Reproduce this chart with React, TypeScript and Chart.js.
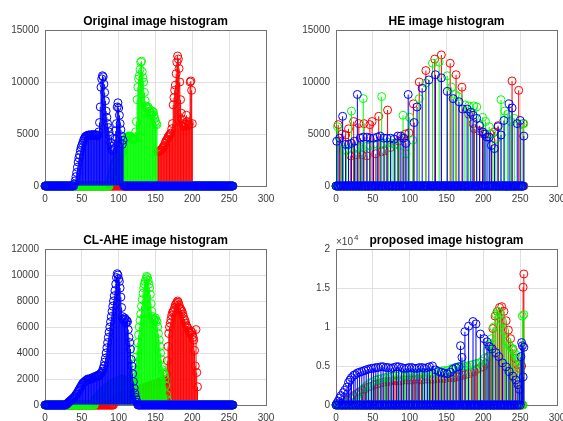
import { useEffect, useRef } from "react";
import { Chart, registerables } from "chart.js";

Chart.register(...registerables);

// ---------------- data ----------------
const BIN_COUNT = 256; // intensity levels 0..255

const xTickValues = [0, 50, 100, 150, 200, 250, 300];
const xTickLabels = ["0", "50", "100", "150", "200", "250", "300"];
const topYTicks = [0, 5000, 10000, 15000];
const topYLabels = ["0", "5000", "10000", "15000"];
const claheYTicks = [0, 2000, 4000, 6000, 8000, 10000, 12000];
const claheYLabels = ["0", "2000", "4000", "6000", "8000", "10000", "12000"];
const proposedYTicks = [0, 5000, 10000, 15000, 20000];
const proposedYLabels = ["0", "0.5", "1", "1.5", "2"];

// Original image histogram (runs of consecutive bins, zero elsewhere)
const origBlueStart = 40;
const origBlue = [
  200, 500, 900, 1300, 1800, 2300, 2700, 3000, 3400, 3700,
  3900, 4100, 4300, 4500, 4650, 4750, 4800, 4850, 4850, 4900,
  4900, 4900, 4850, 4900, 4950, 4900, 4900, 4850, 4950, 4900,
  4850, 4800, 4900, 5200, 6100, 7600, 9500, 10300, 10600, 10500,
  9800, 9000, 8200, 7200, 6600, 6000, 5600, 5200, 4800, 4200,
  3800, 3500, 3400, 3600, 4000, 4500, 5300, 6000, 7600, 8000,
  7500, 6800, 6000, 5400, 4800, 4000, 4400,
];
const origGreenStart = 88;
const origGreen = [
  400, 600, 900, 1200, 1500, 1800, 2000, 2200, 2400, 2500,
  2600, 2700, 2800, 2900, 3000, 3000, 3100, 3200, 3400,
  4300, 4400, 4500, 4600, 4700, 4700, 4800, 4800, 4700, 4800,
  4700, 4600, 4500, 4400, 4500, 4700, 5200, 6200, 8300, 9500,
  10300, 10600, 11200, 11900, 12000, 11000, 10400, 10000, 9000, 8200,
  7700, 7600, 7500, 7600, 7400, 7200, 7000, 6800, 7000, 7200,
  7100, 6800, 6500, 6200, 6000, 5900,
];
const origRedStart = 153;
const origRed = [
  3300, 3300, 3350, 3400, 3450, 3500, 3600, 3700, 3800, 3900,
  4100, 4300, 4400, 4500, 4700, 4800, 4900, 5000, 5100, 5500,
  6000, 7800, 8500, 9200, 9700, 10800, 11900, 12500, 12200, 11300,
  10000, 8300, 7000, 6400, 6000, 5800, 5700, 5900, 6000, 6800,
  6200, 5800, 5900, 6000, 10000, 10100, 9200, 6000,
];

// HE image histogram (sparse bins: [level, count])
const heBlue: [number, number][] = [
  [1, 4300], [5, 4600], [9, 6700], [13, 4000], [17, 4000], [21, 4100], [25, 4300], [29, 8800],
  [33, 4600], [37, 4700], [42, 4700], [46, 4600], [51, 4600], [56, 4700], [60, 4800], [65, 4600],
  [69, 4600], [74, 4600], [79, 4500], [84, 4800], [88, 4800], [92, 4600], [95, 4100], [98, 8800],
  [106, 6100], [110, 7600], [117, 9400], [126, 10200], [135, 10700], [143, 10400], [151, 9100],
  [159, 8400], [167, 8100], [172, 7400], [178, 7400], [183, 7100], [186, 6800], [191, 6500],
  [195, 5800], [199, 5200], [202, 5000], [205, 4700], [208, 4700], [211, 3900], [215, 3600],
  [220, 5700], [224, 4900], [228, 6300], [235, 7900], [239, 7500], [246, 6000], [250, 6300], [255, 4800],
];
const heGreen: [number, number][] = [
  [2, 5700], [6, 4000], [10, 3500], [14, 3400], [17, 3600], [21, 7200], [26, 3600], [30, 3700],
  [34, 3700], [37, 8400], [41, 3800], [46, 3900], [51, 4000], [56, 4000], [62, 8600], [66, 4100],
  [71, 4200], [76, 4100], [81, 4000], [86, 3900], [91, 6800], [95, 3100], [100, 6600], [104, 4400],
  [113, 8400], [122, 9900], [131, 11800], [140, 11900], [151, 10600], [157, 9500], [162, 8800],
  [166, 8600], [175, 7800], [180, 7700], [187, 7700], [191, 7600], [199, 6600], [203, 6200],
  [208, 5700], [212, 5000], [217, 4500], [224, 8300], [229, 7200], [233, 6900], [237, 6200],
  [242, 6500], [251, 5900], [255, 6000],
];
const heRed: [number, number][] = [
  [3, 5900], [8, 5000], [13, 4900], [17, 5500], [20, 2900], [24, 6200], [27, 3000], [31, 6000],
  [35, 3000], [38, 6000], [42, 2900], [46, 5900], [49, 6200], [54, 3100], [58, 6700], [62, 3300],
  [66, 3400], [70, 7300], [74, 3700], [80, 4000], [85, 4300], [90, 4600], [94, 5000], [99, 5100],
  [105, 7900], [113, 10000], [122, 11100], [134, 12200], [143, 12600], [155, 11800], [163, 10700],
  [171, 9500], [180, 6900], [186, 6000], [188, 5500], [195, 5300], [200, 5000], [209, 5000],
  [215, 5200], [220, 5800], [239, 10100], [248, 9200], [254, 6000],
];

// CL-AHE image histogram (runs of consecutive bins)
const clBlueStart = 29;
const clBlue = [
  50, 90, 160, 210, 240, 310, 360, 390, 460, 520,
  560, 610, 700, 800, 850, 950, 1050, 1150, 1250, 1350,
  1450, 1550, 1650, 1700, 1750, 1800, 1850, 1900, 1950, 2000,
  1950, 2000, 1950, 2000, 2050, 2100, 2050, 2100, 2150, 2200,
  2150, 2200, 2250, 2300, 2250, 2300, 2400, 2450, 2500, 2600,
  2800, 3000, 3300, 3600, 4000, 4400, 4800, 5200, 5600, 6000,
  6400, 6800, 7200, 7600, 8000, 8400, 8800, 9300, 9800, 10100,
  10000, 9700, 9500, 9000, 8300, 7500, 6800, 6600, 6500, 6700,
  6600, 6300, 6500, 6400, 5800, 5200, 4800, 4300, 3500, 3000,
  2400, 1800, 1300, 900, 600, 400, 200,
];
const clGreenStart = 68;
const clGreen = [
  420, 480, 530, 600, 650, 720, 800, 850, 930, 1000,
  1050, 1100, 1150, 1200, 1250, 1300, 1350, 1400, 1450, 1500,
  1500, 1550, 1600, 1600, 1650, 1700, 1700, 1750, 1800, 1800,
  1850, 1850, 1900, 1900, 1950, 1950, 2000, 2000, 1950, 1950,
  1900, 1900, 1850, 1850, 1800, 1800, 1750, 1700, 1700, 1650, 1700,
  1800, 2000, 2300, 2700, 3200, 3700, 4200, 4800, 5400, 6000,
  6500, 7000, 7600, 8100, 8600, 9000, 9300, 9500, 9700, 9900,
  9800, 9600, 9300, 9000, 8500, 7800, 7200, 6800, 6600, 6500,
  6600, 6700, 6500, 6400, 6000, 5500, 5000, 4500, 4000, 3500,
  3000, 2700, 2500, 2300, 2000, 1500, 800, 400,
];
const clRedStart = 94;
const clRed = [
  380, 420, 450, 480, 500, 530, 560, 580, 610, 640,
  660, 690, 710, 740, 760, 790, 810, 840, 860, 880,
  910, 930, 950, 980, 1000, 1010, 1040, 1060, 1080, 1100,
  1110, 1130, 1160, 1180, 1200, 1210, 1230, 1260, 1280, 1300,
  1310, 1330, 1360, 1380, 1400, 1410, 1430, 1450, 1480, 1500,
  1510, 1530, 1560, 1580, 1600, 1610, 1630, 1650, 1680, 1700,
  1710, 1730, 1750, 1780, 1800, 1810, 1830, 1850, 1850, 1850,
  1800, 2400, 3400, 4500, 5500, 6000, 6300, 6600, 6900, 7100,
  7200, 7300, 7500, 7700, 7800, 7900, 8000, 7900, 7700, 7500,
  7400, 7300, 7200, 7000, 6800, 6600, 6500, 6300, 6100, 6000,
  5900, 5700, 5600, 5500, 5700, 5600, 5400, 5200, 5000, 4200,
  3000, 5800, 2500, 1400,
];

// proposed image histogram (sparse bins: [level, count])
const propBlue: [number, number][] = [
  [1, 200], [3, 500], [5, 900], [7, 1200], [10, 1600], [12, 1900], [15, 2300], [17, 2900], [19, 3200],
  [21, 3500], [24, 3800], [26, 3900], [29, 4100], [32, 4200], [35, 4300], [38, 4400], [41, 4500],
  [44, 4600], [48, 4700], [51, 4700], [54, 4800], [57, 4800], [61, 4900], [64, 4900], [68, 4800],
  [71, 4800], [75, 4700], [78, 4800], [82, 4900], [85, 4900], [89, 4800], [92, 4700], [96, 4700],
  [99, 4800], [103, 4800], [106, 4700], [110, 4700], [113, 4800], [117, 4800], [120, 4700],
  [124, 4800], [127, 4900], [131, 5000], [135, 4500], [139, 4300], [143, 4200], [147, 4100],
  [151, 4000], [155, 4200], [159, 4600], [163, 4800], [167, 4900], [169, 7600], [171, 6100],
  [175, 9400], [180, 10100], [186, 10700], [190, 10400], [196, 9100], [201, 8500], [205, 8100],
  [208, 7500], [212, 7200], [217, 6700], [221, 6200], [226, 5400], [231, 4900], [235, 4300],
  [240, 3700], [244, 3200], [247, 2600], [249, 2000], [251, 6200], [252, 8000], [253, 7600],
  [254, 3600], [255, 7400],
];
const propGreen: [number, number][] = [
  [6, 100], [10, 200], [14, 300], [18, 500], [22, 800], [26, 1100], [30, 1400], [34, 1800],
  [38, 2200], [42, 2500], [46, 2800], [50, 3000], [54, 3200], [58, 3300], [62, 3400], [66, 3500],
  [70, 3600], [74, 3600], [78, 3700], [82, 3700], [86, 3800], [90, 3800], [94, 3900], [98, 3900],
  [102, 4000], [106, 4000], [110, 4000], [114, 4100], [118, 4100], [122, 4100], [126, 4200],
  [130, 4200], [134, 4200], [138, 4300], [142, 4300], [146, 4400], [150, 4400], [154, 4500],
  [158, 4700], [162, 4800], [166, 4900], [170, 4900], [174, 5000], [178, 5000], [182, 5100],
  [186, 5200], [190, 5300], [194, 5400], [198, 5600], [202, 6000], [205, 7000], [208, 7800],
  [211, 8500], [214, 10000], [217, 11600], [220, 12000], [223, 11800], [226, 10700], [229, 9500],
  [232, 8200], [235, 7700], [238, 7300], [241, 7000], [244, 6500], [247, 6000], [250, 5500],
  [253, 11400], [255, 11600],
];
const propRed: [number, number][] = [
  [4, 100], [8, 200], [12, 350], [16, 600], [20, 900], [24, 1200], [28, 1400], [32, 1700],
  [36, 1900], [40, 2100], [44, 2300], [48, 2400], [52, 2600], [56, 2700], [60, 2800], [64, 2900],
  [68, 3000], [72, 3000], [76, 3100], [80, 3100], [84, 3100], [88, 3100], [92, 3200], [96, 3200],
  [100, 3200], [104, 3200], [108, 3300], [112, 3300], [116, 3200], [120, 3300], [124, 3300],
  [128, 3300], [132, 3300], [136, 3400], [140, 3400], [144, 3400], [148, 3400], [152, 3500],
  [156, 3500], [160, 3500], [164, 3600], [168, 3700], [172, 3800], [176, 3900], [180, 4000],
  [184, 4200], [188, 4300], [192, 4600], [196, 4800], [200, 4900], [203, 5300], [207, 6200],
  [210, 7500], [213, 9800], [216, 11400], [219, 12000], [222, 12500], [225, 12600], [228, 12000],
  [231, 10800], [234, 9600], [237, 8500], [240, 7200], [243, 6000], [246, 5200], [249, 4700],
  [252, 5000], [254, 15100], [255, 16800],
];

// ---------------- helpers ----------------
function fromRun(start: number, values: number[]): number[] {
  const out = new Array<number>(BIN_COUNT).fill(0);
  values.forEach((v, i) => {
    if (start + i < BIN_COUNT) out[start + i] = v;
  });
  return out;
}
function fromBins(pairs: [number, number][]): number[] {
  const out = new Array<number>(BIN_COUNT).fill(0);
  pairs.forEach(([x, v]) => {
    out[x] = v;
  });
  return out;
}

// ---------------- styling ----------------
const PAGE_W = 563;
const PAGE_H = 421;
const Y_AXIS_W = 40;
const X_AXIS_H = 20;
const FONT = '"Liberation Sans", Arial, Helvetica, sans-serif';
const TICK_COLOR = "#3a3a3a";
const GRID_COLOR = "#e0e0e0";
const BOX_COLOR = "#707070";
const RED = "#ff0000";
const GREEN = "#00ff00";
const BLUE = "#0000ff";

type Area = { left: number; top: number; right: number; bottom: number };
type Panel = {
  id: string;
  title: string;
  area: Area;
  yMax: number;
  yTicks: number[];
  yLabels: string[];
  exponent?: string;
  red: number[];
  green: number[];
  blue: number[];
};

const panels: Panel[] = [
  {
    id: "orig",
    title: "Original image histogram",
    area: { left: 45, top: 30, right: 266, bottom: 186 },
    yMax: 15000,
    yTicks: topYTicks,
    yLabels: topYLabels,
    red: fromRun(origRedStart, origRed),
    green: fromRun(origGreenStart, origGreen),
    blue: fromRun(origBlueStart, origBlue),
  },
  {
    id: "he",
    title: "HE image histogram",
    area: { left: 336, top: 30, right: 557, bottom: 186 },
    yMax: 15000,
    yTicks: topYTicks,
    yLabels: topYLabels,
    red: fromBins(heRed),
    green: fromBins(heGreen),
    blue: fromBins(heBlue),
  },
  {
    id: "clahe",
    title: "CL-AHE image histogram",
    area: { left: 45, top: 249, right: 266, bottom: 405 },
    yMax: 12000,
    yTicks: claheYTicks,
    yLabels: claheYLabels,
    red: fromRun(clRedStart, clRed),
    green: fromRun(clGreenStart, clGreen),
    blue: fromRun(clBlueStart, clBlue),
  },
  {
    id: "proposed",
    title: "proposed image histogram",
    area: { left: 336, top: 249, right: 557, bottom: 405 },
    yMax: 20000,
    yTicks: proposedYTicks,
    yLabels: proposedYLabels,
    exponent: "4",
    red: fromBins(propRed),
    green: fromBins(propGreen),
    blue: fromBins(propBlue),
  },
];

function makeDecor(panel: Panel) {
  return {
    id: "panelDecor",
    beforeDatasetsDraw(chart: any) {
      const { ctx, chartArea: a } = chart;
      ctx.save();
      ctx.strokeStyle = BOX_COLOR;
      ctx.lineWidth = 1;
      ctx.strokeRect(
        Math.round(a.left) + 0.5,
        Math.round(a.top) + 0.5,
        Math.round(a.right - a.left),
        Math.round(a.bottom - a.top)
      );
      ctx.restore();
    },
    afterDraw(chart: any) {
      const { ctx, chartArea: a } = chart;
      ctx.save();
      ctx.fillStyle = "#000000";
      ctx.font = `bold 12px ${FONT}`;
      ctx.textAlign = "center";
      ctx.textBaseline = "alphabetic";
      ctx.fillText(panel.title, (a.left + a.right) / 2, a.top - 5);
      if (panel.exponent) {
        ctx.fillStyle = TICK_COLOR;
        ctx.font = `10px ${FONT}`;
        ctx.textAlign = "left";
        const base = "\u00d710";
        ctx.fillText(base, a.left, a.top - 4);
        const w = ctx.measureText(base).width;
        ctx.font = `8px ${FONT}`;
        ctx.fillText(panel.exponent, a.left + w + 1, a.top - 9);
      }
      ctx.restore();
    },
  };
}

function buildConfig(panel: Panel): any {
  const channels = [
    { values: panel.blue, color: BLUE },
    { values: panel.green, color: GREEN },
    { values: panel.red, color: RED },
  ];
  const datasets: any[] = [];
  let order = 0;
  channels.forEach((ch) => {
    const pts = ch.values.map((y, x) => ({ x, y }));
    datasets.push({
      type: "line",
      data: pts,
      showLine: false,
      pointRadius: 4,
      pointBorderWidth: 1,
      pointBorderColor: ch.color,
      pointBackgroundColor: "rgba(0,0,0,0)",
      borderColor: ch.color,
      backgroundColor: "rgba(0,0,0,0)",
      clip: false,
      order: order++,
    });
    datasets.push({
      type: "bar",
      data: pts,
      backgroundColor: ch.color,
      borderWidth: 0,
      barThickness: 1,
      inflateAmount: 0,
      grouped: false,
      order: order++,
    });
  });

  const a = panel.area;
  return {
    type: "bar",
    data: { datasets },
    options: {
      animation: false,
      responsive: false,
      maintainAspectRatio: false,
      devicePixelRatio: 1,
      events: [],
      layout: {
        padding: {
          left: a.left - Y_AXIS_W,
          top: a.top,
          right: PAGE_W - a.right,
          bottom: PAGE_H - a.bottom - X_AXIS_H,
        },
      },
      plugins: {
        legend: { display: false },
        tooltip: { enabled: false },
        title: { display: false },
      },
      scales: {
        x: {
          type: "linear",
          min: 0,
          max: 300,
          offset: false,
          afterBuildTicks: (axis: any) => {
            axis.ticks = xTickValues.map((value) => ({ value }));
          },
          afterFit: (axis: any) => {
            axis.height = X_AXIS_H;
            axis.paddingLeft = 0;
            axis.paddingRight = 0;
          },
          ticks: {
            autoSkip: false,
            maxRotation: 0,
            padding: 7,
            color: TICK_COLOR,
            font: { family: FONT, size: 10 },
            callback: (_v: any, i: number) => xTickLabels[i],
          },
          grid: { color: GRID_COLOR, drawTicks: false, offset: false, lineWidth: 1 },
          border: { display: false },
        },
        y: {
          type: "linear",
          min: 0,
          max: panel.yMax,
          afterBuildTicks: (axis: any) => {
            axis.ticks = panel.yTicks.map((value) => ({ value }));
          },
          afterFit: (axis: any) => {
            axis.width = Y_AXIS_W;
            axis.paddingTop = 0;
            axis.paddingBottom = 0;
          },
          ticks: {
            autoSkip: false,
            padding: 6,
            color: TICK_COLOR,
            font: { family: FONT, size: 10 },
            callback: (_v: any, i: number) => panel.yLabels[i],
          },
          grid: { color: GRID_COLOR, drawTicks: false, lineWidth: 1 },
          border: { display: false },
        },
      },
    },
    plugins: [makeDecor(panel)],
  };
}

function PanelChart({ panel }: { panel: Panel }) {
  const ref = useRef<HTMLCanvasElement | null>(null);
  useEffect(() => {
    if (!ref.current) return;
    const chart = new Chart(ref.current, buildConfig(panel));
    return () => chart.destroy();
  }, [panel]);
  return (
    <canvas
      ref={ref}
      width={PAGE_W}
      height={PAGE_H}
      style={{ position: "absolute", left: 0, top: 0, width: PAGE_W, height: PAGE_H }}
    />
  );
}

export default function App() {
  return (
    <div
      style={{
        position: "absolute",
        left: 0,
        top: 0,
        width: PAGE_W,
        height: PAGE_H,
        background: "#ffffff",
        overflow: "hidden",
      }}
    >
      {panels.map((p) => (
        <PanelChart key={p.id} panel={p} />
      ))}
    </div>
  );
}
